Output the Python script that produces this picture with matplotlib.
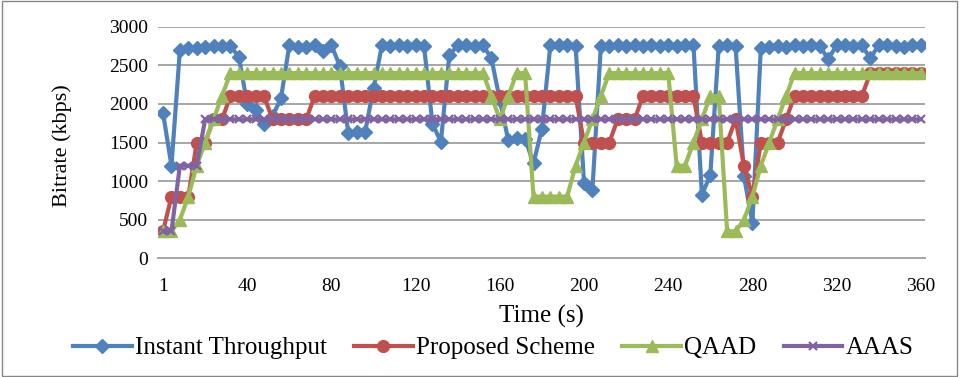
import matplotlib
matplotlib.use("Agg")
import matplotlib.pyplot as plt
from matplotlib.patches import Rectangle

# playback log: one sample every 4 s (category axis, first sample at t=1)
times = [1] + list(range(4, 361, 4))
tick_labels = ['1', '40', '80', '120', '160', '200', '240', '280', '320', '360']

throughput = [1880, 1200, 2700, 2720, 2720, 2740, 2750, 2750, 2750, 2610,
              2000, 1920, 1740, 1840, 2070, 2760, 2740, 2740, 2760, 2680,
              2760, 2490, 1620, 1640, 1640, 2200, 2760, 2750, 2760, 2750,
              2760, 2750, 1740, 1510, 2630, 2760, 2760, 2750, 2760, 2590,
              2050, 1530, 1560, 1550, 1230, 1680, 2760, 2760, 2760, 2750,
              980, 890, 2750, 2750, 2760, 2750, 2760, 2750, 2760, 2750,
              2760, 2750, 2760, 2760, 820, 1080, 2750, 2760, 2750, 1060,
              460, 2720, 2740, 2750, 2740, 2760, 2750, 2760, 2750, 2580,
              2760, 2760, 2750, 2760, 2590, 2760, 2760, 2750, 2740, 2760,
              2760]

proposed = ([350] + [800]*3 + [1500]*2 + [1800]*2 + [2100]*5 + [1800]*5 +
            [2100]*32 + [1500]*4 + [1800]*3 + [2100]*7 + [1500]*4 +
            [1800] + [1200] + [800] + [1500]*3 + [1800] + [2100]*9 +
            [2400]*7)

qaad = ([350, 350, 500, 800, 1200, 1500, 1800, 2100] + [2400]*31 +
        [2100, 1800, 2100, 2400, 2400] + [800]*5 + [1200, 1500, 1800, 2100] +
        [2400]*8 + [1200, 1200, 1500, 1800, 2100, 2100] +
        [350, 350, 500, 800, 1200, 1500, 1800, 2100] + [2400]*16)

aaas = [350, 350] + [1200]*3 + [1800]*86

idx = list(range(len(times)))

plt.rcParams['font.family'] = ['Liberation Serif', 'DejaVu Serif']

fig = plt.figure(figsize=(9.59, 3.77), dpi=100)
W, H = 959, 377
ax = fig.add_axes([158/W, 1-258.3/H, (925-158)/W, (258.3-26.7)/H])

ax.plot(idx, throughput, color='#4F81BD', lw=3, marker='D', ms=7.5,
        label='Instant Throughput', zorder=3)
ax.plot(idx, proposed, color='#C0504D', lw=3, marker='o', ms=8.5,
        label='Proposed Scheme', zorder=4)
ax.plot(idx, qaad, color='#9BBB59', lw=3, marker='^', ms=8.5,
        label='QAAD', zorder=5)
ax.plot(idx, aaas, color='#8064A2', lw=3, marker='x', ms=6, mew=1.6,
        label='AAAS', zorder=6)

ax.set_xlim(-0.6, 90.5)
ax.set_ylim(0, 3000)
ax.set_yticks(range(0, 3001, 500))
ax.set_xticks(range(0, 91, 10))
ax.set_xticklabels(tick_labels)
ax.grid(axis='y', color='#a6a6a6', lw=1.4, zorder=0)
ax.set_axisbelow(True)
for s in ['left', 'right', 'top']:
    ax.spines[s].set_visible(False)
ax.spines['bottom'].set_color('#a6a6a6')
ax.spines['bottom'].set_linewidth(1.4)
ax.tick_params(axis='both', length=0, labelsize=14)
ax.tick_params(axis='y', pad=7)
ax.tick_params(axis='x', pad=14)

fig.text(62/W, 1-146/H, 'Bitrate (kbps)', rotation=90, ha='center',
         va='center', fontsize=16)
fig.text(541/W, 1-316/H, 'Time (s)', ha='center', va='center', fontsize=18)

fig.legend(loc='center', bbox_to_anchor=(493/W, 1-348/H), ncol=4,
           frameon=False, fontsize=18, handlelength=2.35,
           handletextpad=0.12, columnspacing=1.1)

fig.patches.append(Rectangle((0.002, 0.003), 0.996, 0.994,
                             transform=fig.transFigure, fill=False,
                             edgecolor='#868686', lw=1))

fig.savefig('out.png', dpi=100)
